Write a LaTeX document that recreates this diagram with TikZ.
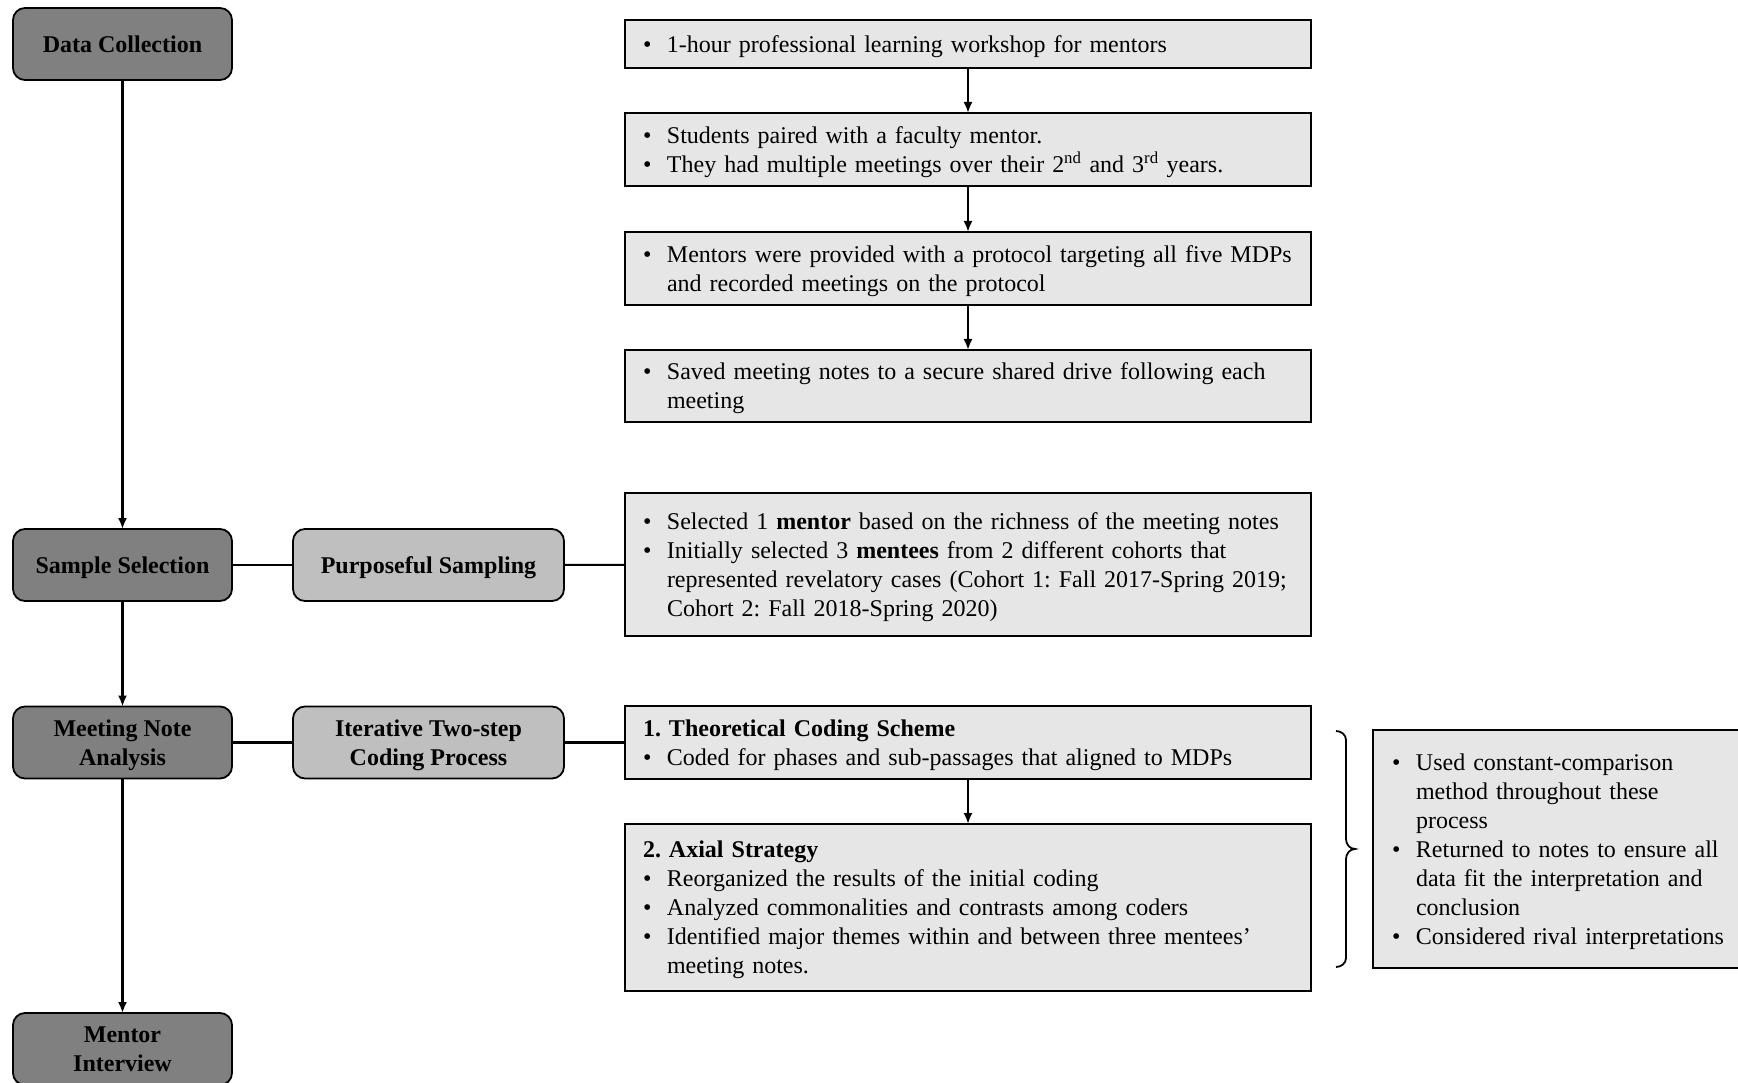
\documentclass[tikz,border=0pt]{standalone}
\usepackage{fontspec}
\setmainfont{Liberation Serif}
\usetikzlibrary{arrows.meta}
\definecolor{dkgray}{RGB}{128,128,128}
\definecolor{mdgray}{RGB}{191,191,191}
\definecolor{ltgray}{RGB}{231,230,230}
\setlength{\parindent}{0pt}
\frenchspacing
\newcommand\lstrut{\rule[-6.25pt]{0pt}{29pt}}
\newcommand\itm{\lstrut\makebox[24pt][l]{\textbullet}}
\newcommand\cont{\lstrut\hspace*{24pt}}
\begin{document}
\begin{tikzpicture}[x=1pt,y=-1pt,
  base/.style={draw=black, line width=1.8pt, outer sep=0pt, font=\fontsize{24}{29}\selectfont},
  stage/.style={base, rounded corners=12pt, fill=dkgray, align=center,
    font=\bfseries\fontsize{24}{29}\selectfont, minimum width=219pt, minimum height=72pt, inner sep=2pt},
  method/.style={stage, fill=mdgray, minimum width=271pt},
  info/.style={base, fill=ltgray, text width=650pt, inner xsep=18pt, inner ysep=2pt, align=left},
  arr/.style={-{Latex[length=11pt,width=9pt]}, line width=2.1pt},
  link/.style={line width=2.1pt}]
\useasboundingbox (0,0) rectangle (1738,1083);

% left column
\node[stage] (dc) at (122.5,44) {\lstrut Data Collection};
\node[stage] (ss) at (122.5,565) {\lstrut Sample Selection};
\node[stage] (mna) at (122.5,742.5) {\lstrut Meeting Note\\\lstrut Analysis};
\node[stage] (mi) at (122.5,1049) {\lstrut Mentor\\\lstrut Interview};
\node[method] (ps) at (428.5,565) {\lstrut Purposeful Sampling};
\node[method] (its) at (428.5,742.5) {\lstrut Iterative Two-step\\\lstrut Coding Process};

% right column
\node[info, minimum height=48pt] (b1) at (968,44)
  {\itm 1-hour professional learning workshop for mentors};
\node[info, minimum height=73pt] (b2) at (968,149.5)
  {\itm Students paired with a faculty mentor.\\
   \itm They had multiple meetings over their 2\textsuperscript{nd} and 3\textsuperscript{rd} years.};
\node[info, minimum height=73pt] (b3) at (968,268.5)
  {\itm Mentors were provided with a protocol targeting all five MDPs\\
   \cont and recorded meetings on the protocol};
\node[info, minimum height=72pt] (b4) at (968,386)
  {\itm Saved meeting notes to a secure shared drive following each\\
   \cont meeting};
\node[info, minimum height=143pt] (b5) at (968,564.5)
  {\itm Selected 1 \textbf{mentor} based on the richness of the meeting notes\\
   \itm Initially selected 3 \textbf{mentees} from 2 different cohorts that\\
   \cont represented revelatory cases (Cohort 1: Fall 2017-Spring 2019;\\
   \cont Cohort 2: Fall 2018-Spring 2020)};
\node[info, minimum height=73pt] (b6) at (968,742.5)
  {\lstrut\textbf{1. Theoretical Coding Scheme}\\
   \itm Coded for phases and sub-passages that aligned to MDPs};
\node[info, minimum height=167pt] (b7) at (968,907.5)
  {\lstrut\textbf{2. Axial Strategy}\\
   \itm Reorganized the results of the initial coding\\
   \itm Analyzed commonalities and contrasts among coders\\
   \itm Identified major themes within and between three mentees’\\
   \cont meeting notes.};
\node[info, text width=360pt, inner xsep=19pt, minimum height=238pt, anchor=west] (rb) at (1373,849)
  {\itm Used constant-comparison\\
   \cont method throughout these\\
   \cont process\\
   \itm Returned to notes to ensure all\\
   \cont data fit the interpretation and\\
   \cont conclusion\\
   \itm Considered rival interpretations};

% connectors
\draw[arr] (dc) -- (ss);
\draw[arr] (ss) -- (mna);
\draw[arr] (mna) -- (mi);
\draw[link] (ss) -- (ps);
\draw[link] (ps) -- (b5);
\draw[link] (mna) -- (its);
\draw[link] (its) -- (b6);
\draw[arr] (b1) -- (b2);
\draw[arr] (b2) -- (b3);
\draw[arr] (b3) -- (b4);
\draw[arr] (b6) -- (b7);

% brace
\draw[line width=1.8pt] (1336,731) to[out=0,in=90] (1346,740) -- (1346,839)
  to[out=-90,in=180] (1355,849) to[out=180,in=90] (1346,859) -- (1346,958)
  to[out=-90,in=0] (1336,967);
\end{tikzpicture}
\end{document}
